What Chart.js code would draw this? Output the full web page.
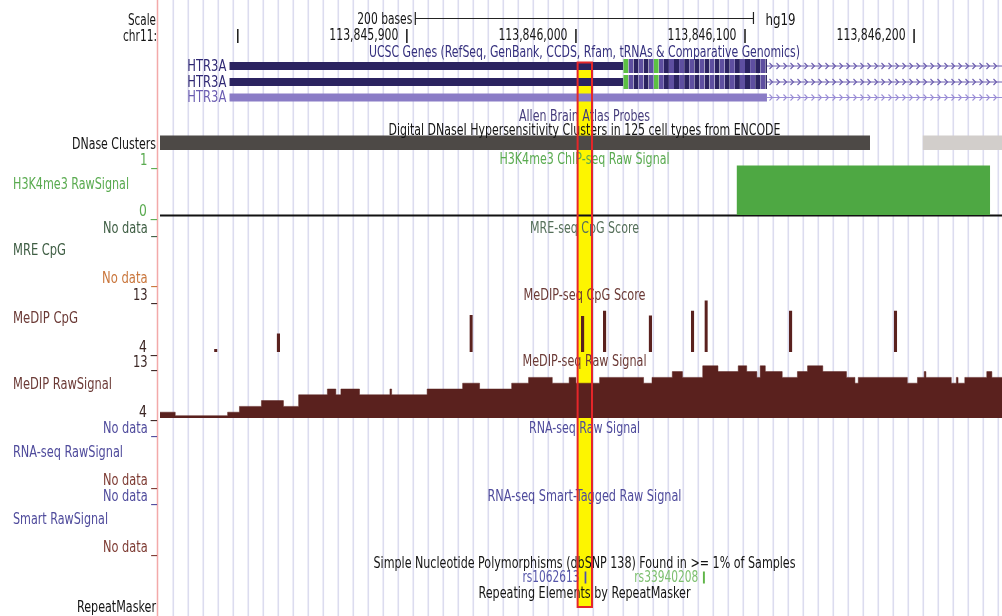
<!DOCTYPE html>
<html>
<head>
<meta charset="utf-8">
<title>HTR3A – chr11 tracks</title>
<script src="https://cdn.jsdelivr.net/npm/chart.js@4.4.1/dist/chart.umd.min.js"></script>
<style>
  html, body { margin: 0; padding: 0; background: #ffffff; }
  canvas { display: block; }
</style>
</head>
<body>
<canvas id="browser" width="1002" height="616"></canvas>
<script>
// ---------------- data ----------------
const chromName = 'chr11:';
const assembly = 'hg19';
const viewStart = 113845754;
const viewEnd = 113846252;

const positionTicks = [113845800, 113845900, 113846000, 113846100, 113846200];
const positionTickLabels = ['', '113,845,900', '113,846,000', '113,846,100', '113,846,200'];
const scaleBarStart = 113845905;
const scaleBarEnd = 113846105;
const scaleBarLabel = '200 bases';

// UCSC Genes: three HTR3A transcripts (first exon + intron running off to the right)
const geneNames = ['HTR3A', 'HTR3A', 'HTR3A'];
const exonStarts = [113845795, 113845795, 113845795];
const exonEnds = [113846113, 113846113, 113846113];
const cdsStarts = [113846028, 113846028, null];
const intronEnds = [113846300, 113846300, 113846300];
const methionineCodons = [0, 6];

// DNase clusters (score 0-1000)
const dnaseStarts = [113845700, 113846205];
const dnaseEnds = [113846174, 113846300];
const dnaseScores = [1000, 200];

// H3K4me3 ChIP-seq raw signal
const h3k4me3Starts = [113846095];
const h3k4me3Ends = [113846245];
const h3k4me3Values = [1];

// MeDIP-seq CpG score (2-bp CpG sites)
const medipCpgStarts = [113845786, 113845823, 113845937, 113846003, 113846016, 113846043, 113846068, 113846076, 113846126, 113846188];
const medipCpgScores = [4.5, 7.2, 10.4, 10.2, 11.1, 10.3, 11.1, 12.9, 11.1, 11.1];

// MeDIP-seq raw signal (step starts and levels)
const medipRawStarts = [113845700, 113845763, 113845794, 113845801, 113845814, 113845827, 113845836, 113845853, 113845858, 113845861,
  113845872, 113845890, 113845891, 113845912, 113845933, 113845943, 113845962, 113845972, 113845986, 113845996,
  113846000, 113846014, 113846040, 113846045, 113846057, 113846063, 113846075, 113846084, 113846096, 113846101,
  113846107, 113846109, 113846112, 113846122, 113846131, 113846137, 113846146, 113846160, 113846165, 113846167,
  113846196, 113846202, 113846206, 113846207, 113846222, 113846225, 113846226, 113846230, 113846243, 113846246];
const medipRawValues = [5, 4.4, 5, 6, 7, 6, 8, 9, 8, 9,
  8, 9, 8, 9, 10, 9, 10, 11, 10, 11,
  10, 11, 10, 11, 12, 11, 13, 12, 13, 12,
  11, 13, 12, 11, 12, 13, 12, 11, 10, 11,
  10, 11, 12, 11, 10, 11, 10, 11, 12, 11];
const medipRawEnd = 113846260;

// dbSNP 138 common SNPs
const snpNames = ['rs1062613', 'rs33940208'];
const snpPositions = [113846005, 113846075];

// highlighted region
const highlightStart = 113846001;
const highlightEnd = 113846009.5;

// ---------------- layout & style ----------------
const FONT = '"Liberation Sans Narrow","DejaVu Sans Condensed","Liberation Sans",sans-serif';
const FONT_SIZE = 16;
const col = {
  grid: '#dcdcef', border: '#f3a9a9', ink: '#141414',
  geneDark: '#2b2360', geneMid: '#5e4fa0', geneLight: '#8a7cc6', met: '#5cc043',
  intronDark: '#6a5cae', intronLight: '#9a8ed6',
  geneLabelDark: '#2f2874', geneLabelLight: '#6b5db2',
  dnaseDark: [77, 73, 70], dnaseLight: [219, 215, 212],
  green: '#4ea843', greenText: '#5aab50',
  mreText: '#3f5e44', mreTitle: '#56705b', orange: '#c9763c',
  brownText: '#6b3a36', brownTick: '#3b2624', medip: '#5a211e',
  blueText: '#4f4b9c', brownNoData: '#7d3a32',
  snpBlue: '#4e4eb0', snpBlueText: '#5656aa', snpGreen: '#5fb548', snpGreenText: '#7cbf6e',
  highlight: '#fdf500', highlightEdge: '#e5262a'
};
const tracks = {
  h3k4me3: { top: 165.5, bottom: 215, min: 0, max: 1 },
  medipCpg: { top: 299.8, bottom: 352, min: 4, max: 13 },
  medipRaw: { top: 365.8, bottom: 418, min: 4, max: 13 }
};
const geneRowCenters = [66, 82, 97.5];
const thickHalf = 7, thinHalf = 4;
const dnaseRows = [135.5, 150];
const snpRows = [571.5, 583.5];
const highlightRows = [62.5, 607];

function rowOf(name, v) {
  const t = tracks[name];
  return t.bottom - (v - t.min) / (t.max - t.min) * (t.bottom - t.top);
}

function rectSet(x0, x1, yTop, yBot, color, order) {
  return {
    data: [{ x: x0, y: yTop }, { x: x1, y: yTop }],
    fill: { value: yBot },
    backgroundColor: color,
    borderColor: 'rgba(0,0,0,0)',
    borderWidth: 0,
    pointRadius: 0,
    showLine: true,
    order: order || 0
  };
}
function lineSet(x0, x1, y, color, width, extra) {
  return Object.assign({
    data: [{ x: x0, y: y }, { x: x1, y: y }],
    fill: false,
    borderColor: color,
    borderWidth: width,
    pointRadius: 0,
    order: 0
  }, extra || {});
}
function grey(score) {
  const f = Math.min(1, score / 1000);
  const c = col.dnaseLight.map((l, i) => Math.round(l + (col.dnaseDark[i] - l) * (f < 0.5 ? f * 0.3 : f)));
  return `rgb(${c[0]},${c[1]},${c[2]})`;
}

// ---------------- datasets ----------------
const datasets = [];

// highlight band sits behind everything
datasets.push(rectSet(highlightStart, highlightEnd, highlightRows[0], highlightRows[1], col.highlight, 100));

// genes
geneNames.forEach((name, i) => {
  const c = geneRowCenters[i];
  const coding = cdsStarts[i] !== null;
  const thinColor = coding ? col.geneDark : col.geneLight;
  const utrEnd = coding ? cdsStarts[i] : exonEnds[i];
  datasets.push(rectSet(exonStarts[i], utrEnd, c - thinHalf, c + thinHalf, thinColor));
  if (coding) {
    for (let k = 0, p = cdsStarts[i]; p < exonEnds[i]; k++, p += 3) {
      const colour = methionineCodons.includes(k) ? col.met : (k % 2 ? col.geneMid : col.geneDark);
      datasets.push(rectSet(p, Math.min(p + 3, exonEnds[i]), c - thickHalf, c + thickHalf, colour));
    }
  }
  datasets.push(lineSet(exonEnds[i], intronEnds[i], c, coding ? col.intronDark : col.intronLight, 1, { intron: true }));
});

// DNase clusters
dnaseStarts.forEach((s, i) => datasets.push(rectSet(s, dnaseEnds[i], dnaseRows[0], dnaseRows[1], grey(dnaseScores[i]))));

// H3K4me3
h3k4me3Starts.forEach((s, i) =>
  datasets.push(rectSet(s, h3k4me3Ends[i], rowOf('h3k4me3', h3k4me3Values[i]), rowOf('h3k4me3', 0), col.green)));
datasets.push(lineSet(viewStart - 20, viewEnd + 20, rowOf('h3k4me3', 0) + 0.5, '#111111', 2));

// MeDIP CpG score
medipCpgStarts.forEach((s, i) =>
  datasets.push(rectSet(s, s + 2, rowOf('medipCpg', medipCpgScores[i]), rowOf('medipCpg', 4), col.medip)));

// MeDIP raw signal as a filled step profile
const rawPoints = medipRawStarts.map((s, i) => ({ x: s, y: rowOf('medipRaw', medipRawValues[i]) }));
rawPoints.push({ x: medipRawEnd, y: rowOf('medipRaw', medipRawValues[medipRawValues.length - 1]) });
datasets.push({
  data: rawPoints,
  stepped: true,
  fill: { value: rowOf('medipRaw', 4) },
  backgroundColor: col.medip,
  borderColor: col.medip,
  borderWidth: 0.5,
  pointRadius: 0,
  order: 0
});

// SNPs
const snpColours = [col.snpBlue, col.snpGreen];
snpPositions.forEach((p, i) => datasets.push(rectSet(p, p + 1.3, snpRows[0], snpRows[1], snpColours[i])));

// ---------------- text ----------------
const TITLE_X = 584.5;
const labels = [
  { t: 'Scale', x: 156, y: 20, a: 'right', w: 28, c: col.ink },
  { t: chromName, x: 157, y: 36, a: 'right', w: 34, c: col.ink },
  { t: 'UCSC Genes (RefSeq, GenBank, CCDS, Rfam, tRNAs & Comparative Genomics)', x: TITLE_X, y: 52, a: 'center', w: 431, c: '#35307e' },
  { t: 'Allen Brain Atlas Probes', x: TITLE_X, y: 116, a: 'center', w: 131, c: '#463d7c' },
  { t: 'Digital DNaseI Hypersensitivity Clusters in 125 cell types from ENCODE', x: TITLE_X, y: 130, a: 'center', w: 392, c: col.ink },
  { t: 'DNase Clusters', x: 156, y: 144, a: 'right', w: 84, c: col.ink },
  { t: '1 _', x: 157, y: 160, a: 'right', w: 17, c: col.greenText },
  { t: 'H3K4me3 ChIP-seq Raw Signal', x: TITLE_X, y: 159, a: 'center', w: 170, c: col.greenText },
  { t: 'H3K4me3 RawSignal', x: 13, y: 184, a: 'left', w: 116, c: col.greenText },
  { t: '0 _', x: 157, y: 211, a: 'right', w: 18, c: col.greenText },
  { t: 'No data _', x: 157, y: 228, a: 'right', w: 54, c: col.mreText },
  { t: 'MRE-seq CpG Score', x: TITLE_X, y: 228, a: 'center', w: 109, c: col.mreTitle },
  { t: 'MRE CpG', x: 13, y: 250, a: 'left', w: 53, c: col.mreText },
  { t: 'No data _', x: 157, y: 278, a: 'right', w: 55, c: col.orange },
  { t: '13 _', x: 157, y: 295, a: 'right', w: 24, c: col.brownTick },
  { t: 'MeDIP-seq CpG Score', x: TITLE_X, y: 295, a: 'center', w: 122, c: col.brownText },
  { t: 'MeDIP CpG', x: 13, y: 318, a: 'left', w: 65, c: col.brownText },
  { t: '4 _', x: 157, y: 347, a: 'right', w: 18, c: col.brownTick },
  { t: '13 _', x: 157, y: 362, a: 'right', w: 24, c: col.brownTick },
  { t: 'MeDIP-seq Raw Signal', x: TITLE_X, y: 361, a: 'center', w: 124, c: col.brownText },
  { t: 'MeDIP RawSignal', x: 13, y: 384, a: 'left', w: 99, c: col.brownText },
  { t: '4 _', x: 157, y: 412, a: 'right', w: 18, c: col.brownTick },
  { t: 'No data _', x: 157, y: 428, a: 'right', w: 54, c: col.blueText },
  { t: 'RNA-seq Raw Signal', x: TITLE_X, y: 428, a: 'center', w: 111, c: col.blueText },
  { t: 'RNA-seq RawSignal', x: 13, y: 452, a: 'left', w: 110, c: col.blueText },
  { t: 'No data _', x: 157, y: 480, a: 'right', w: 54, c: col.brownNoData },
  { t: 'No data _', x: 157, y: 496, a: 'right', w: 54, c: col.blueText },
  { t: 'RNA-seq Smart-Tagged Raw Signal', x: TITLE_X, y: 496, a: 'center', w: 194, c: col.blueText },
  { t: 'Smart RawSignal', x: 13, y: 519, a: 'left', w: 95, c: col.blueText },
  { t: 'No data _', x: 157, y: 547, a: 'right', w: 54, c: col.brownNoData },
  { t: 'Simple Nucleotide Polymorphisms (dbSNP 138) Found in >= 1% of Samples', x: TITLE_X, y: 563, a: 'center', w: 422, c: col.ink },
  { t: 'Repeating Elements by RepeatMasker', x: TITLE_X, y: 593, a: 'center', w: 212, c: col.ink },
  { t: 'RepeatMasker', x: 156, y: 607, a: 'right', w: 79, c: col.ink }
];

function drawText(ctx, text, x, y, align, width, color, size) {
  ctx.save();
  ctx.font = `${size || FONT_SIZE}px ${FONT}`;
  ctx.fillStyle = color;
  ctx.textBaseline = 'middle';
  ctx.textAlign = 'left';
  const natural = ctx.measureText(text).width;
  const sx = width ? width / natural : 1;
  const w = natural * sx;
  const x0 = align === 'right' ? x - w : align === 'center' ? x - w / 2 : x;
  ctx.translate(x0, y + 0.5);
  ctx.scale(sx, 1);
  ctx.fillText(text, 0, 0);
  ctx.restore();
}

// ---------------- plugins ----------------
const backdrop = {
  id: 'backdrop',
  beforeDraw(chart) {
    const { ctx } = chart;
    ctx.save();
    ctx.fillStyle = '#ffffff';
    ctx.fillRect(0, 0, chart.width, chart.height);
    ctx.restore();
  },
  beforeDatasetsDraw(chart) {
    const { ctx, chartArea: a } = chart;
    ctx.save();
    ctx.strokeStyle = col.grid;
    ctx.lineWidth = 1.6;
    for (let x = a.left + 13.3; x < a.right; x += 15) {
      ctx.beginPath(); ctx.moveTo(x, a.top); ctx.lineTo(x, a.bottom); ctx.stroke();
    }
    ctx.strokeStyle = col.border;
    ctx.lineWidth = 1.5;
    ctx.beginPath(); ctx.moveTo(a.left - 2.5, a.top); ctx.lineTo(a.left - 2.5, a.bottom); ctx.stroke();
    ctx.restore();
  }
};

const annotations = {
  id: 'annotations',
  afterDatasetsDraw(chart) {
    const { ctx, chartArea: a } = chart;
    const xs = chart.scales.x, ys = chart.scales.y;

    // strand arrows along introns
    chart.data.datasets.forEach(ds => {
      if (!ds.intron) return;
      const x0 = Math.max(xs.getPixelForValue(ds.data[0].x), a.left);
      const x1 = Math.min(xs.getPixelForValue(ds.data[1].x), a.right);
      const y = ys.getPixelForValue(ds.data[0].y);
      ctx.save();
      ctx.strokeStyle = ds.borderColor;
      ctx.lineWidth = 1.1;
      for (let x = x0 + 5; x < x1; x += 7) {
        ctx.beginPath(); ctx.moveTo(x - 2.5, y - 3); ctx.lineTo(x + 0.5, y); ctx.lineTo(x - 2.5, y + 3); ctx.stroke();
      }
      ctx.restore();
    });

    // scale bar
    ctx.save();
    ctx.strokeStyle = '#222';
    ctx.lineWidth = 1.2;
    const sb0 = xs.getPixelForValue(scaleBarStart), sb1 = xs.getPixelForValue(scaleBarEnd);
    ctx.beginPath();
    ctx.moveTo(sb0, 12); ctx.lineTo(sb0, 25);
    ctx.moveTo(sb0, 18.5); ctx.lineTo(sb1, 18.5);
    ctx.moveTo(sb1, 12); ctx.lineTo(sb1, 24);
    ctx.stroke();
    // position ticks
    ctx.lineWidth = 1.6;
    positionTicks.forEach(p => {
      const x = xs.getPixelForValue(p);
      ctx.beginPath(); ctx.moveTo(x, 29); ctx.lineTo(x, 43); ctx.stroke();
    });
    ctx.restore();

    drawText(ctx, scaleBarLabel, sb0 - 3, 19.5, 'right', 55, col.ink);
    drawText(ctx, assembly, sb1 + 12, 20.5, 'left', 30, col.ink);
    positionTicks.forEach((p, i) => {
      if (positionTickLabels[i]) drawText(ctx, positionTickLabels[i], xs.getPixelForValue(p) - 8.5, 35.5, 'right', 69, col.ink);
    });

    // gene names
    geneNames.forEach((n, i) => {
      const x = xs.getPixelForValue(exonStarts[i]) - 3;
      drawText(ctx, n, x, geneRowCenters[i], 'right', 39, cdsStarts[i] !== null ? col.geneLabelDark : col.geneLabelLight);
    });

    // SNP names
    drawText(ctx, snpNames[0], xs.getPixelForValue(snpPositions[0]) - 5, 577, 'right', 57, col.snpBlueText);
    drawText(ctx, snpNames[1], xs.getPixelForValue(snpPositions[1]) - 4.5, 577, 'right', 64, col.snpGreenText);

    labels.forEach(l => drawText(ctx, l.t, l.x, l.y, l.a, l.w, l.c));
  },
  afterDraw(chart) {
    const { ctx } = chart;
    const xs = chart.scales.x, ys = chart.scales.y;
    const x0 = xs.getPixelForValue(highlightStart), x1 = xs.getPixelForValue(highlightEnd);
    const y0 = ys.getPixelForValue(highlightRows[0]), y1 = ys.getPixelForValue(highlightRows[1]);
    ctx.save();
    ctx.strokeStyle = col.highlightEdge;
    ctx.lineWidth = 2;
    ctx.strokeRect(x0, y0, x1 - x0, y1 - y0);
    ctx.restore();
  }
};

new Chart(document.getElementById('browser'), {
  type: 'line',
  data: { datasets },
  options: {
    responsive: false,
    animation: false,
    events: [],
    layout: { padding: { left: 160, right: 0, top: 0, bottom: 0 } },
    scales: {
      x: { type: 'linear', min: viewStart, max: viewEnd, display: false },
      y: { type: 'linear', min: 0, max: 616, reverse: true, display: false }
    },
    plugins: { legend: { display: false }, tooltip: { enabled: false } }
  },
  plugins: [backdrop, annotations]
});
</script>
</body>
</html>
